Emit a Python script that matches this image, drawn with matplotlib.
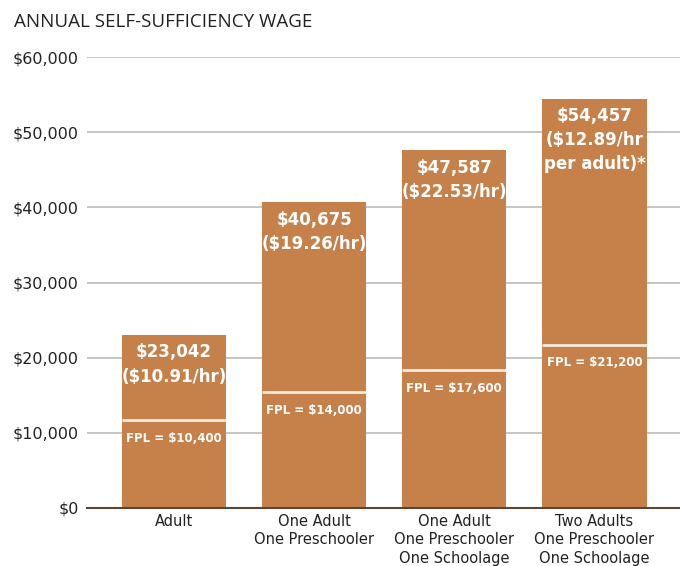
import matplotlib.pyplot as plt
import numpy as np

categories = ["Adult", "One Adult\nOne Preschooler", "One Adult\nOne Preschooler\nOne Schoolage",
              "Two Adults\nOne Preschooler\nOne Schoolage"]
wages = [23042, 40675, 47587, 54457]
wage_labels = ["$23,042\n($10.91/hr)", "$40,675\n($19.26/hr)", "$47,587\n($22.53/hr)",
               "$54,457\n($12.89/hr\nper adult)*"]
fpl_labels = ["FPL = $10,400", "FPL = $14,000", "FPL = $17,600", "FPL = $21,200"]
# where the white FPL marker sits on each bar (as drawn in the original graphic)
fpl_marker = [11700, 15400, 18300, 21700]

bar_color = "#C6814A"

fig = plt.figure(figsize=(6.8, 5.66), dpi=100)
ax = fig.add_axes([0.128, 0.1025, 0.872, 0.7965])

x = np.arange(len(categories))
w = 0.743
ax.bar(x, wages, width=w, color=bar_color, zorder=2)

for i in range(len(x)):
    ax.plot([x[i] - w / 2, x[i] + w / 2], [fpl_marker[i], fpl_marker[i]], color="#f8ece0",
            lw=2, solid_capstyle="butt", zorder=3)
    ax.text(x[i], fpl_marker[i] - 2400, fpl_labels[i], color="white", fontsize=8.5,
            fontweight="bold", ha="center", va="center", zorder=4)
    ax.text(x[i], wages[i] - 1150, wage_labels[i], color="white", fontsize=12,
            fontweight="bold", ha="center", va="top", linespacing=1.43, zorder=4)

ax.set_ylim(0, 60000)
ax.set_xlim(-0.62, 3.61)
ax.set_yticks(np.arange(0, 60001, 10000))
ax.set_yticklabels(["$0", "$10,000", "$20,000", "$30,000", "$40,000", "$50,000", "$60,000"],
                   fontsize=11.5, color="#222222")
ax.set_xticks(x)
ax.set_xticklabels(categories, fontsize=10.5, color="#222222", linespacing=1.3)
ax.tick_params(length=0, axis="both")
ax.tick_params(axis="y", pad=6)
ax.tick_params(axis="x", pad=4)
ax.yaxis.grid(True, color="#bbbbbb", lw=1.2, zorder=0)
ax.set_axisbelow(True)
for s in ["top", "right", "left"]:
    ax.spines[s].set_visible(False)
ax.spines["bottom"].set_color("#5a4636")
ax.spines["bottom"].set_linewidth(1.5)
ax.spines["bottom"].set_zorder(5)

fig.text(0.02, 0.962, "ANNUAL SELF-SUFFICIENCY WAGE", fontsize=13.5, color="#222222",
         family="Open Sans", va="center")

fig.savefig("out.png", dpi=100)
